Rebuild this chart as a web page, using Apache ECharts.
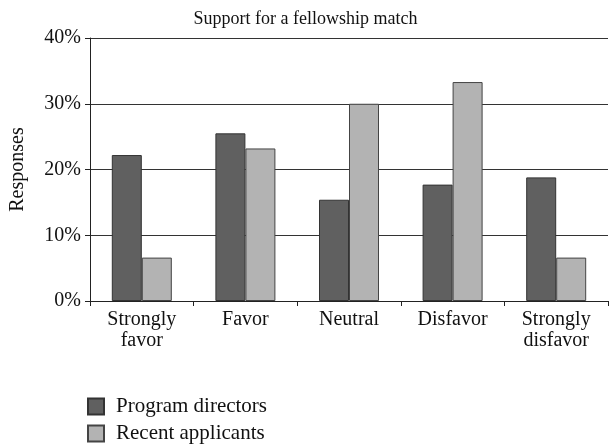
<!DOCTYPE html>
<html><head><meta charset="utf-8">
<script src="https://cdn.jsdelivr.net/npm/echarts@6/dist/echarts.min.js"></script>
<style>html,body{margin:0;padding:0;background:#fff}#c{width:611px;height:448px}</style>
</head><body><div id="c"></div>
<script>
const categories = ['Strongly\nfavor', 'Favor', 'Neutral', 'Disfavor', 'Strongly\ndisfavor'];
const programDirectors = [22.2, 25.5, 15.4, 17.7, 18.8];
const recentApplicants = [6.6, 23.2, 30.0, 33.3, 6.6];
const yTicks = [0, 10, 20, 30, 40];

const font = 'Liberation Serif';
const chart = echarts.init(document.getElementById('c'));
chart.setOption({
  animation: false,
  backgroundColor: '#fff',
  title: {
    text: 'Support for a fellowship match',
    left: 'center', top: 5,
    textStyle: { fontFamily: font, fontSize: 18, fontWeight: 'normal', color: '#111' }
  },
  legend: {
    orient: 'vertical', left: 87, top: 396, itemGap: 6, padding: 0, height: 52,
    itemWidth: 16, itemHeight: 16, icon: 'rect',
    textStyle: { fontFamily: font, fontSize: 21, lineHeight: 21, color: '#111', padding: [0, 0, 0, 7] },
    data: ['Program directors', 'Recent applicants']
  },
  grid: { left: 88, right: 3, top: 38, bottom: 147, containLabel: false },
  xAxis: {
    type: 'category', data: categories,
    axisLine: { lineStyle: { color: '#222', width: 1 } },
    axisTick: { show: true, length: 5, lineStyle: { color: '#222' } },
    axisLabel: { fontFamily: font, fontSize: 20, color: '#111', lineHeight: 21, margin: 8, interval: 0 }
  },
  yAxis: {
    type: 'value', min: yTicks[0], max: yTicks[yTicks.length - 1], interval: 10,
    name: 'Responses', nameLocation: 'middle', nameGap: 62, nameRotate: 90,
    nameTextStyle: { fontFamily: font, fontSize: 20, color: '#111' },
    axisLine: { show: true, lineStyle: { color: '#222', width: 1 } },
    axisTick: { show: true, length: 5, lineStyle: { color: '#222' } },
    axisLabel: { fontFamily: font, fontSize: 20, color: '#111', formatter: '{value}%', margin: 9 },
    splitLine: { show: true, lineStyle: { color: '#333', width: 1 } }
  },
  series: [
    { name: 'Program directors', type: 'bar', data: programDirectors, barWidth: 30, barGap: '0%',
      itemStyle: { color: '#606060', borderColor: '#333', borderWidth: 1 } },
    { name: 'Recent applicants', type: 'bar', data: recentApplicants, barWidth: 30, barGap: '0%',
      itemStyle: { color: '#b3b3b3', borderColor: '#444', borderWidth: 1 } }
  ]
});
</script></body></html>
